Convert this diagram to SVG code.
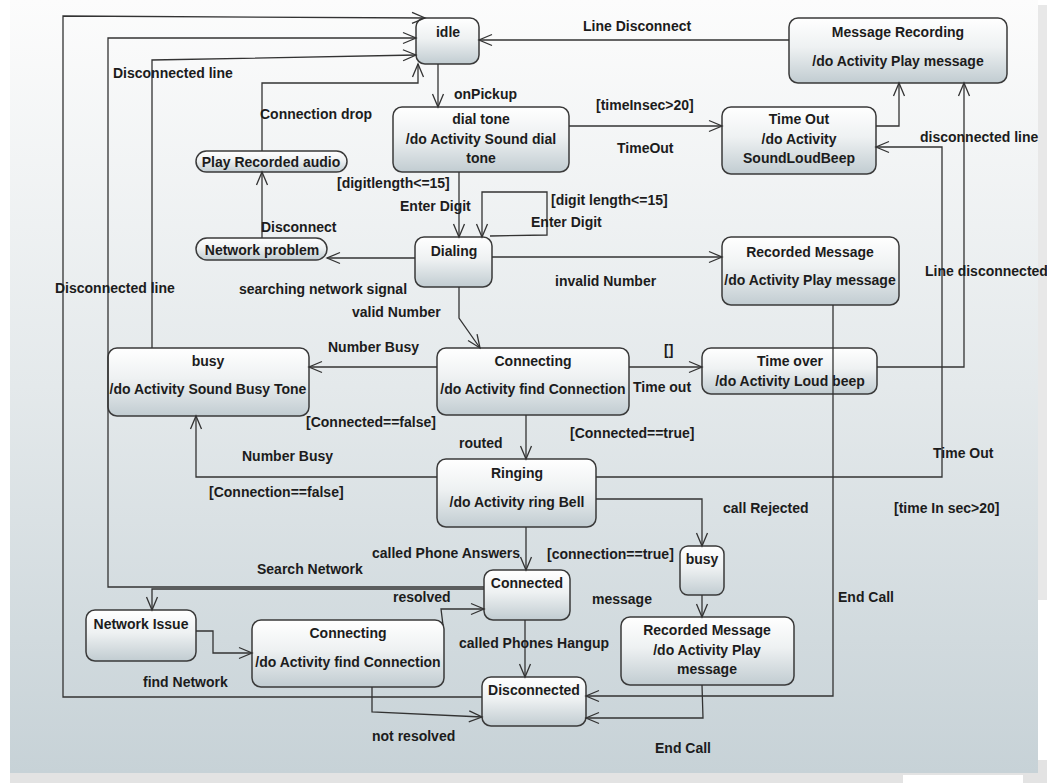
<svg xmlns="http://www.w3.org/2000/svg" width="1047" height="783" viewBox="0 0 1047 783">
  <defs>
    <linearGradient id="bg" x1="0" y1="0" x2="0" y2="1">
      <stop offset="0" stop-color="#fcfcfc"/>
      <stop offset="0.5" stop-color="#e4e9eb"/>
      <stop offset="1" stop-color="#c7d2d7"/>
    </linearGradient>
    <linearGradient id="nodeFill" x1="0" y1="0" x2="0" y2="1">
      <stop offset="0" stop-color="#ffffff"/>
      <stop offset="0.45" stop-color="#eef1f2"/>
      <stop offset="1" stop-color="#c1ccd1"/>
    </linearGradient>
    <marker id="arrow" markerWidth="16" markerHeight="14" refX="14" refY="7" orient="auto" markerUnits="userSpaceOnUse">
      <path d="M1,1.5 L14,7 L1,12.5" fill="none" stroke="#333" stroke-width="1.3"/>
    </marker>
  </defs>
  <style>
    .node { fill: url(#nodeFill); stroke: #3a3a3a; stroke-width: 1.5; }
    .t { font-family: "Liberation Sans", Arial, sans-serif; font-size: 14px; font-weight: bold; fill: #1c1c1c; }
    .c { text-anchor: middle; }
    .edge { fill: none; stroke: #333; stroke-width: 1.3; marker-end: url(#arrow); }
  </style>

  <!-- canvas -->
  <rect width="1047" height="783" fill="#ffffff"/>
  <rect x="10" y="0" width="1028" height="773" fill="url(#bg)"/>
  <rect x="10" y="773" width="1037" height="10" fill="#e3e3e3"/>
  <rect x="903" y="775" width="120" height="8" fill="#ffffff"/>
  <rect x="1038" y="5" width="9" height="595" fill="#e8e8e8"/>
  <rect x="1038" y="760" width="9" height="23" fill="#e3e3e3"/>

  <!-- states -->
  <g id="idle">
    <rect class="node" x="416" y="18" width="63" height="46" rx="9"/>
    <text class="t c" x="448" y="37">idle</text>
  </g>
  <g id="dial-tone">
    <rect class="node" x="393" y="107" width="176" height="65" rx="9"/>
    <text class="t c" x="481" y="124">dial tone</text>
    <text class="t c" x="481" y="144">/do Activity Sound dial</text>
    <text class="t c" x="481" y="163">tone</text>
  </g>
  <g id="message-recording">
    <rect class="node" x="789" y="18" width="218" height="65" rx="9"/>
    <text class="t c" x="898" y="37">Message Recording</text>
    <text class="t c" x="898" y="66">/do Activity Play message</text>
  </g>
  <g id="time-out">
    <rect class="node" x="722" y="107" width="154" height="67" rx="9"/>
    <text class="t c" x="799" y="124">Time Out</text>
    <text class="t c" x="799" y="144">/do Activity</text>
    <text class="t c" x="799" y="163">SoundLoudBeep</text>
  </g>
  <g id="play-recorded-audio">
    <rect class="node" x="196" y="151" width="151" height="21" rx="10.5"/>
    <text class="t c" x="271" y="167">Play Recorded audio</text>
  </g>
  <g id="network-problem">
    <rect class="node" x="196" y="238" width="131" height="22" rx="11"/>
    <text class="t c" x="262" y="255">Network problem</text>
  </g>
  <g id="dialing">
    <rect class="node" x="415" y="237" width="77" height="50" rx="9"/>
    <text class="t c" x="454" y="256">Dialing</text>
  </g>
  <g id="recorded-message-1">
    <rect class="node" x="722" y="237" width="177" height="68" rx="9"/>
    <text class="t c" x="810" y="257">Recorded Message</text>
    <text class="t c" x="810" y="285">/do Activity Play message</text>
  </g>
  <g id="busy-tone">
    <rect class="node" x="108" y="348" width="201" height="68" rx="9"/>
    <text class="t c" x="208" y="366">busy</text>
    <text class="t c" x="208" y="394">/do Activity Sound Busy Tone</text>
  </g>
  <g id="connecting-1">
    <rect class="node" x="437" y="348" width="192" height="67" rx="9"/>
    <text class="t c" x="533" y="366">Connecting</text>
    <text class="t c" x="533" y="394">/do Activity find Connection</text>
  </g>
  <g id="time-over">
    <rect class="node" x="702" y="348" width="175" height="46" rx="9"/>
    <text class="t c" x="790" y="366">Time over</text>
    <text class="t c" x="790" y="386">/do Activity Loud beep</text>
  </g>
  <g id="ringing">
    <rect class="node" x="437" y="459" width="159" height="68" rx="9"/>
    <text class="t c" x="517" y="478">Ringing</text>
    <text class="t c" x="517" y="507">/do Activity ring Bell</text>
  </g>
  <g id="busy-rejected">
    <rect class="node" x="680" y="546" width="44" height="49" rx="8"/>
    <text class="t c" x="702" y="564">busy</text>
  </g>
  <g id="connected">
    <rect class="node" x="484" y="570" width="86" height="50" rx="9"/>
    <text class="t c" x="527" y="588">Connected</text>
  </g>
  <g id="network-issue">
    <rect class="node" x="86" y="610" width="110" height="51" rx="9"/>
    <text class="t c" x="141" y="629">Network Issue</text>
  </g>
  <g id="connecting-2">
    <rect class="node" x="252" y="620" width="192" height="67" rx="9"/>
    <text class="t c" x="348" y="638">Connecting</text>
    <text class="t c" x="348" y="667">/do Activity find Connection</text>
  </g>
  <g id="disconnected">
    <rect class="node" x="482" y="677" width="104" height="49" rx="9"/>
    <text class="t c" x="534" y="695">Disconnected</text>
  </g>
  <g id="recorded-message-2">
    <rect class="node" x="621" y="617" width="173" height="68" rx="9"/>
    <text class="t c" x="707" y="635">Recorded Message</text>
    <text class="t c" x="707" y="655">/do Activity Play</text>
    <text class="t c" x="707" y="674">message</text>
  </g>

  <!-- transitions (drawn over the states they pass) -->
  <g id="connectors">
    <path class="edge" d="M482,697 H63 V16 L425,18"/>
    <path class="edge" d="M484,587 H108 V38 H416"/>
    <path class="edge" d="M152,348 V60 L416,55"/>
    <path class="edge" d="M262,151 V83 H418 V64"/>
    <path class="edge" d="M262,238 V172"/>
    <path class="edge" d="M415,258 H327"/>
    <path class="edge" d="M438,64 V107"/>
    <path class="edge" d="M459,172 V237"/>
    <path class="edge" d="M490,236 L547,235 V192 H482 V237"/>
    <path class="edge" d="M569,126 H722"/>
    <path class="edge" d="M789,40 H479"/>
    <path class="edge" d="M876,126 H899 V83"/>
    <path class="edge" d="M877,367 H964 V83"/>
    <path class="edge" d="M596,477 H942 V147 H876"/>
    <path class="edge" d="M492,257 H722"/>
    <path class="edge" d="M833,305 V696 H586"/>
    <path class="edge" d="M702,685 L703,718 H586"/>
    <path class="edge" d="M459,287 V318 L480,348"/>
    <path class="edge" d="M437,367 H309"/>
    <path class="edge" d="M629,367 H702"/>
    <path class="edge" d="M526,415 V459"/>
    <path class="edge" d="M437,477 H196 V416"/>
    <path class="edge" d="M596,499 H702 V546"/>
    <path class="edge" d="M702,595 V617"/>
    <path class="edge" d="M526,527 V570"/>
    <path class="edge" d="M525,620 V677"/>
    <path class="edge" d="M443,625 L441,609 H484"/>
    <path class="edge" d="M372,687 V712 L482,717"/>
    <path class="edge" d="M196,631 H213 V653 H252"/>
    <path class="edge" d="M484,589 H152 V610"/>
  </g>

  <!-- transition labels -->
  <g id="labels" class="t">
    <text x="113" y="78">Disconnected line</text>
    <text x="260" y="119">Connection drop</text>
    <text x="261" y="232">Disconnect</text>
    <text x="239" y="294">searching network signal</text>
    <text x="55" y="293">Disconnected line</text>
    <text x="454" y="99">onPickup</text>
    <text x="337" y="188">[digitlength&lt;=15]</text>
    <text x="400" y="211">Enter Digit</text>
    <text x="551" y="205">[digit length&lt;=15]</text>
    <text x="531" y="227">Enter Digit</text>
    <text x="596" y="110">[timeInsec&gt;20]</text>
    <text x="617" y="153">TimeOut</text>
    <text x="583" y="31">Line Disconnect</text>
    <text x="920" y="142">disconnected line</text>
    <text x="925" y="276">Line disconnected</text>
    <text x="555" y="286">invalid Number</text>
    <text x="352" y="317">valid Number</text>
    <text x="328" y="352">Number Busy</text>
    <text x="664" y="355">[]</text>
    <text x="633" y="392">Time out</text>
    <text x="306" y="427">[Connected==false]</text>
    <text x="570" y="438">[Connected==true]</text>
    <text x="459" y="448">routed</text>
    <text x="242" y="461">Number Busy</text>
    <text x="209" y="497">[Connection==false]</text>
    <text x="933" y="458">Time Out</text>
    <text x="894" y="513">[time In sec&gt;20]</text>
    <text x="723" y="513">call Rejected</text>
    <text x="372" y="558">called Phone Answers</text>
    <text x="547" y="559">[connection==true]</text>
    <text x="257" y="574">Search Network</text>
    <text x="393" y="602">resolved</text>
    <text x="592" y="604">message</text>
    <text x="838" y="602">End Call</text>
    <text x="459" y="648">called Phones Hangup</text>
    <text x="143" y="687">find Network</text>
    <text x="372" y="741">not resolved</text>
    <text x="655" y="753">End Call</text>
  </g>
</svg>
